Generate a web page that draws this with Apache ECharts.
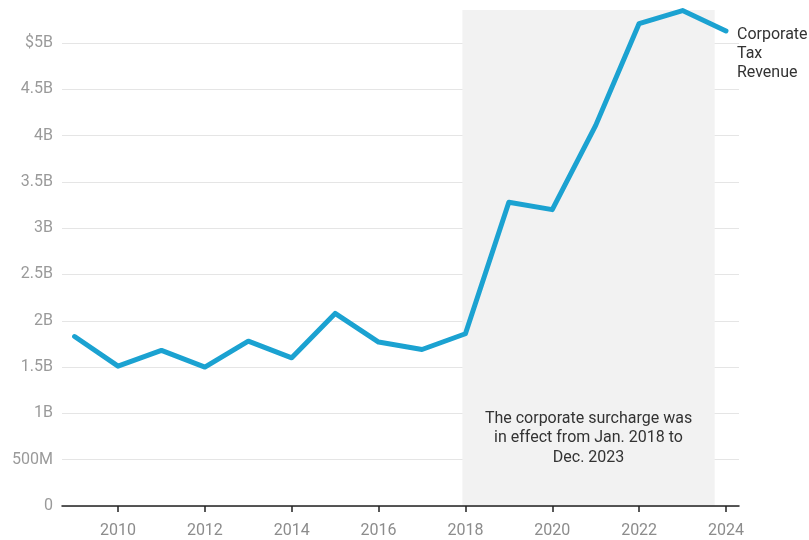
<!DOCTYPE html>
<html>
<head>
<meta charset="utf-8">
<script src="https://cdn.jsdelivr.net/npm/echarts@6/dist/echarts.min.js"></script>
<style>
  html, body { margin: 0; padding: 0; background: #fff; }
  #chart { width: 809px; height: 540px; }
</style>
</head>
<body>
<div id="chart"></div>
<script>
// Annual corporate tax revenue, in billions of dollars
const years = [2009, 2010, 2011, 2012, 2013, 2014, 2015, 2016, 2017, 2018, 2019, 2020, 2021, 2022, 2023, 2024];
const revenue = [1.83, 1.51, 1.68, 1.50, 1.78, 1.60, 2.08, 1.77, 1.69, 1.86, 3.28, 3.20, 4.11, 5.21, 5.35, 5.13];
const xTicks = [2010, 2012, 2014, 2016, 2018, 2020, 2022, 2024];
const yTicks = [0, 0.5, 1, 1.5, 2, 2.5, 3, 3.5, 4, 4.5, 5];
// Period when the surcharge applied (fractional years)
const surchargeSpan = [2017.93, 2023.74];
const surchargeNote = 'The corporate surcharge was\nin effect from Jan. 2018 to\nDec. 2023';
const seriesName = 'Corporate\nTax\nRevenue';

const FONT = 'Roboto, "Noto Sans", sans-serif';

function fmtY(v) {
  if (v === 0) return '0';
  if (v < 1) return Math.round(v * 1000) + 'M';
  const s = (Math.round(v * 10) / 10) + 'B';
  return v === 5 ? '$' + s : s;
}

const chart = echarts.init(document.getElementById('chart'), null, { renderer: 'canvas' });
chart.setOption({
  animation: false,
  grid: { left: 62, right: 70, top: 10, bottom: 34, containLabel: false },
  xAxis: {
    type: 'value',
    min: 2008.71,
    max: 2024.3,
    z: 10,
    splitLine: { show: false },
    axisLine: { show: true, lineStyle: { color: '#222', width: 1.5 } },
    axisTick: { show: true, customValues: xTicks, length: 6, lineStyle: { color: '#222', width: 1.5 } },
    axisLabel: {
      customValues: xTicks,
      color: '#8c8c8c',
      fontFamily: FONT,
      fontSize: 16,
      margin: 17,
      formatter: v => String(v)
    }
  },
  yAxis: {
    type: 'value',
    min: 0,
    max: 5.356,
    axisLine: { show: false },
    axisTick: { show: false },
    splitLine: { show: true, showMaxLine: false, lineStyle: { color: '#e5e5e5', width: 1.2 } },
    axisLabel: {
      customValues: yTicks,
      color: '#9a9a9a',
      fontFamily: FONT,
      fontSize: 16,
      margin: 9,
      formatter: fmtY
    },
    splitNumber: 10
  },
  series: [{
    type: 'line',
    name: seriesName,
    data: years.map((y, i) => [y, revenue[i]]),
    symbol: 'none',
    lineStyle: { color: '#1ba2d1', width: 5, cap: 'round', join: 'round' },
    itemStyle: { color: '#1ba2d1' },
    endLabel: {
      show: true,
      formatter: seriesName,
      color: '#333',
      fontFamily: FONT,
      fontSize: 16,
      lineHeight: 19,
      align: 'left',
      verticalAlign: 'top',
      distance: 11,
      offset: [0, -5]
    },
    markArea: {
      silent: true,
      itemStyle: { color: '#f2f2f2' },
      label: {
        show: true,
        position: ['50%', 428],
        align: 'center',
        verticalAlign: 'middle',
        formatter: surchargeNote,
        color: '#333',
        fontFamily: FONT,
        fontSize: 16,
        lineHeight: 19.5
      },
      data: [[{ xAxis: surchargeSpan[0] }, { xAxis: surchargeSpan[1] }]]
    },
    z: 3
  }]
});
</script>
</body>
</html>
